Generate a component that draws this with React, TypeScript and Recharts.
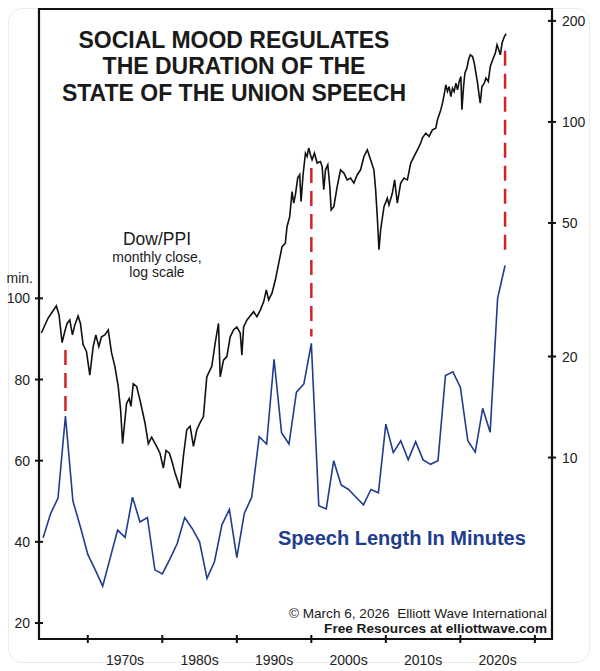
import {
  ComposedChart, Line, XAxis, YAxis, ReferenceLine, ReferenceArea
} from 'recharts'

// speech length, minutes (one point per year, 1973 not given)
const speechYears = [
  1964,1965,1966,1967,1968,1969,1970,1971,1972,1974,1975,1976,1977,1978,1979,
  1980,1981,1982,1983,1984,1985,1986,1987,1988,1989,1990,1991,1992,1993,1994,
  1995,1996,1997,1998,1999,2000,2001,2002,2003,2004,2005,2006,2007,2008,2009,
  2010,2011,2012,2013,2014,2015,2016,2017,2018,2019,2020,2021,2022,2023,2024,
  2025,2026
]
const speechMinutes = [
  41.0,46.9,50.8,71.0,50.1,43.7,36.9,33.1,29.1,42.9,41.1,51.0,44.9,46.0,33.1,
  32.1,35.7,39.6,46.0,43.3,40.0,31.0,35.1,44.2,48.0,36.1,47.0,51.0,65.9,64.1,
  85.0,66.9,64.1,76.9,78.9,88.9,48.9,48.1,60.0,54.0,52.9,51.0,49.1,52.9,52.1,
  69.0,62.0,64.9,60.2,64.7,60.2,59.1,60.0,81.0,81.9,78.1,64.9,62.1,72.9,67.0,
  100.0,108.1
]

// Dow/PPI monthly close, read at the turns of the line
const dowDates = [
  1963.76,1964.66,1965.11,1965.78,1966.14,1966.55,1966.9,1967.22,1967.58,1967.94,
  1968.25,1968.7,1969.01,1969.37,1969.82,1970.27,1970.72,1971.08,1971.48,1971.84,
  1972.29,1972.74,1973.19,1973.63,1974.08,1974.4,1974.67,1975.2,1975.56,1975.79,
  1976.1,1976.55,1977.0,1977.67,1978.12,1978.57,1979.24,1979.69,1980.14,1980.5,
  1980.95,1981.26,1981.71,1982.16,1982.38,1982.83,1983.28,1983.73,1984.18,1984.63,
  1985.07,1985.52,1985.97,1986.64,1987.09,1987.54,1987.77,1988.21,1988.66,1989.11,
  1989.56,1990.0,1990.46,1990.68,1990.91,1991.36,1992.25,1992.7,1993.15,1993.6,
  1993.96,1994.27,1994.72,1995.17,1995.62,1996.07,1996.51,1996.74,1997.1,1997.41,
  1997.64,1997.86,1998.17,1998.44,1998.62,1998.89,1999.21,1999.43,1999.65,1999.88,
  2000.1,2000.42,2000.78,2001.22,2001.45,2001.67,2001.9,2002.21,2002.48,2002.66,
  2003.02,2003.47,2003.92,2004.37,2004.81,2005.26,2005.71,2006.16,2006.61,2007.06,
  2007.51,2007.95,2008.4,2008.63,2008.85,2009.08,2009.3,2009.75,2010.2,2010.42,
  2010.87,2011.18,2011.54,2011.99,2012.44,2012.89,2013.34,2013.79,2014.24,2014.68,
  2014.9,2015.36,2015.8,2016.25,2016.7,2016.93,2017.38,2017.6,2017.82,2018.05,
  2018.27,2018.5,2018.72,2018.95,2019.17,2019.4,2019.62,2019.85,2020.07,2020.21,
  2020.43,2020.61,2020.88,2021.1,2021.33,2021.64,2021.87,2022.09,2022.31,2022.54,
  2022.67,2022.9,2023.21,2023.44,2023.75,2024.02,2024.34,2024.7,2024.92,2025.15,
  2025.37,2025.6,2025.91,2026.14
]
const dowRatio = [
  23.5,26.0,26.9,28.3,26.6,22.0,23.7,25.1,25.7,23.2,
  24.8,26.4,25.1,21.7,20.7,17.6,21.4,23.2,21.4,22.9,
  23.2,24.0,20.5,18.7,16.3,13.9,11.0,14.5,15.0,14.2,
  16.6,16.3,14.85,12.7,11.0,11.5,10.8,10.3,9.3,10.5,
  10.3,9.8,9.0,8.4,8.1,10.1,12.1,12.4,10.8,12.1,
  12.7,13.25,17.4,18.7,21.9,25.1,17.4,19.5,20.0,22.9,
  24.0,24.5,23.5,20.2,24.5,25.7,27.2,26.3,27.5,29.1,
  31.6,29.5,30.9,33.8,37.9,42.5,43.5,48.8,52.2,62.0,
  57.3,60.6,68.0,69.6,57.9,69.6,80.7,78.9,83.6,79.8,
  77.1,80.7,75.4,76.2,73.6,62.8,72.0,74.5,64.2,54.7,
  55.9,64.2,72.0,70.4,67.2,68.0,65.7,69.6,72.0,78.9,
  82.6,77.1,72.0,62.8,52.2,41.6,47.7,55.9,59.3,56.6,
  61.3,67.2,57.3,65.7,68.0,67.2,75.4,78.9,82.6,86.5,
  89.5,92.6,90.5,94.7,95.8,101.5,108.7,113.8,120.4,129.0,
  123.2,127.5,119.0,126.1,123.2,130.5,124.6,132.0,136.6,108.7,
  127.5,139.8,144.7,153.2,158.5,156.6,149.7,139.8,130.5,119.0,
  113.8,127.5,130.5,135.1,132.0,146.3,153.2,160.3,169.8,164.0,
  158.5,171.8,179.7,183.1
]

// red dashed connectors (minutes axis)
const peakYears = [1967, 2000, 2026]
const peakTop = [87.3, 132.1, 161.0]
const peakBottom = [71.5, 90.6, 110.3]

const decadeTicks = [1970,1980,1990,2000,2010,2020,2030]
const decadeLabels = ['1970s','1980s','1990s','2000s','2010s','2020s']
const minuteTicks = [20,40,60,80,100]
const ratioTicks = [10,20,50,100,200]

const X_DOMAIN = [1963.45, 2032.3]
const MIN_DOMAIN = [16.06, 171.3]
const RATIO_DOMAIN = [2.88, 217]

const FONT = '"Liberation Sans", Arial, sans-serif'
const BLUE = '#1f3d8f'
const RED = '#d2232a'

const speechData = speechYears.map((year,i)=>({year, v: speechMinutes[i]}))
const dowData = dowDates.map((year,i)=>({year, v: dowRatio[i]}))
const labelYears = decadeLabels.map((_,i)=>decadeTicks[i]+5)

function XTick(props:any){
  const {x, y, payload} = props
  const val = payload.value
  if(val % 10 === 0){
    return <line x1={x} x2={x} y1={y-4} y2={y+4} stroke="#111" strokeWidth={2} />
  }
  const idx = labelYears.indexOf(val)
  return (
    <text x={x} y={y+26} textAnchor="middle" fontSize={14} fontFamily={FONT} fill="#222">
      {decadeLabels[idx]}
    </text>
  )
}

function LeftTick(props:any){
  const {x, y, payload} = props
  return (
    <g>
      <line x1={x-4} x2={x+4} y1={y} y2={y} stroke="#111" strokeWidth={2} />
      <text x={x-9} y={y+5} textAnchor="end" fontSize={14} fontFamily={FONT} fill="#222">{payload.value}</text>
    </g>
  )
}

function RightTick(props:any){
  const {x, y, payload} = props
  return (
    <g>
      <line x1={x-4} x2={x+4} y1={y} y2={y} stroke="#111" strokeWidth={2} />
      <text x={x+10} y={y+5} textAnchor="start" fontSize={14} fontFamily={FONT} fill="#222">{payload.value}</text>
    </g>
  )
}

export default function App(){
  return (
    <div style={{position:'absolute', left:0, top:0, width:600, height:671, background:'#fff', overflow:'hidden'}}>
      <div style={{position:'absolute', left:8, top:8, width:580, height:653, border:'1px solid #ececec', borderRadius:14}} />
      <div style={{position:'absolute', left:0, top:0}}>
        <ComposedChart width={600} height={671} margin={{top:9, right:0, bottom:0, left:0}}>
          <XAxis
            dataKey="year" type="number" domain={X_DOMAIN} allowDataOverflow
            ticks={[...decadeTicks, ...labelYears].sort((a,b)=>a-b)}
            interval={0} height={32} tickSize={0} tickMargin={0}
            axisLine={false} tickLine={false} tick={<XTick />}
          />
          <YAxis
            yAxisId="min" type="number" domain={MIN_DOMAIN} allowDataOverflow
            ticks={minuteTicks} interval={0} width={39} tickSize={0} tickMargin={0}
            axisLine={false} tickLine={false} tick={<LeftTick />}
          />
          <YAxis
            yAxisId="dow" orientation="right" type="number" scale="log" domain={RATIO_DOMAIN} allowDataOverflow
            ticks={ratioTicks} interval={0} width={48} tickSize={0} tickMargin={0}
            axisLine={false} tickLine={false} tick={<RightTick />}
          />
          <ReferenceArea
            yAxisId="min" x1={X_DOMAIN[0]} x2={X_DOMAIN[1]} y1={MIN_DOMAIN[0]} y2={MIN_DOMAIN[1]}
            fill="none" fillOpacity={0} stroke="#111" strokeWidth={2.2}
          />
          <Line
            yAxisId="dow" data={dowData} dataKey="v" type="linear" stroke="#111"
            strokeWidth={1.6} dot={false} isAnimationActive={false}
          />
          <Line
            yAxisId="min" data={speechData} dataKey="v" type="linear" stroke={BLUE}
            strokeWidth={1.6} dot={false} isAnimationActive={false}
          />
          {peakYears.map((yr,i)=>(
            <ReferenceLine
              key={yr} yAxisId="min"
              segment={[{x:yr, y:peakTop[i]},{x:yr, y:peakBottom[i]}]}
              stroke={RED} strokeWidth={2.5} strokeDasharray="15 8"
            />
          ))}
        </ComposedChart>
      </div>
      <svg width={600} height={671} style={{position:'absolute', left:0, top:0, pointerEvents:'none'}}>
        <g fontFamily={FONT} fontWeight="bold" fontSize={23} fill="#1a1a1a" textAnchor="middle">
          <text x={234} y={48}>SOCIAL MOOD REGULATES</text>
          <text x={234} y={74}>THE DURATION OF THE</text>
          <text x={234} y={101}>STATE OF THE UNION SPEECH</text>
        </g>
        <g fontFamily={FONT} fill="#1a1a1a" textAnchor="middle">
          <text x={157} y={245} fontSize={17.5}>Dow/PPI</text>
          <text x={157} y={262} fontSize={14}>monthly close,</text>
          <text x={157} y={277} fontSize={14}>log scale</text>
        </g>
        <text x={33} y={283} textAnchor="end" fontFamily={FONT} fontSize={14} fill="#222">min.</text>
        <text x={278} y={545} fontFamily={FONT} fontWeight="bold" fontSize={20} fill={BLUE}>Speech Length In Minutes</text>
        <text x={547} y={618} textAnchor="end" fontFamily={FONT} fontSize={13.6} fill="#1a1a1a" style={{whiteSpace:'pre'}}>© March 6, 2026  Elliott Wave International</text>
        <text x={547} y={633} textAnchor="end" fontFamily={FONT} fontWeight="bold" fontSize={13.6} fill="#1a1a1a">Free Resources at elliottwave.com</text>
      </svg>
    </div>
  )
}
